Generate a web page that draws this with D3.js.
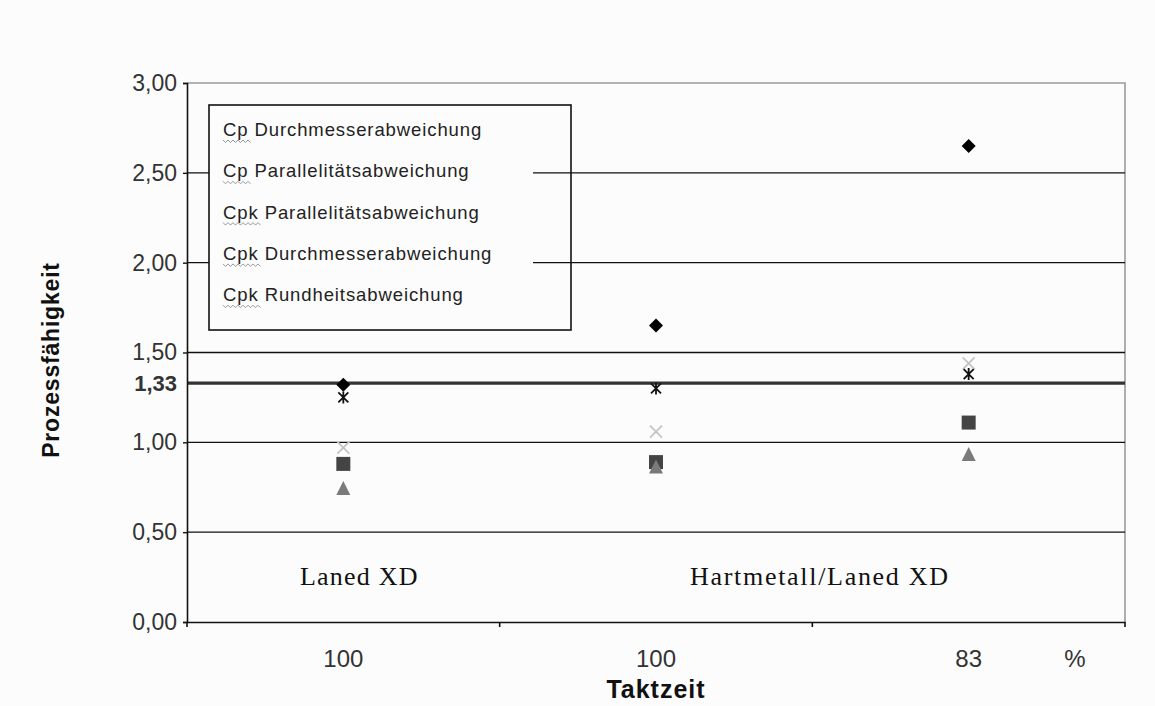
<!DOCTYPE html>
<html>
<head>
<meta charset="utf-8">
<script src="https://cdn.jsdelivr.net/npm/d3@7"></script>
<style>
  html, body { margin: 0; padding: 0; background: #fcfcfc; }
  svg { display: block; }
</style>
</head>
<body>
<svg id="chart" width="1155" height="706"></svg>
<script>
// ---- data ----
const categories = ["100", "100", "83"];
const seriesNames = [
  "Cp Durchmesserabweichung",
  "Cp Parallelitätsabweichung",
  "Cpk Parallelitätsabweichung",
  "Cpk Durchmesserabweichung",
  "Cpk Rundheitsabweichung"
];
const cpDurchmesser   = [1.32, 1.65, 2.65];
const cpParallel      = [0.88, 0.89, 1.11];
const cpkParallel     = [0.74, 0.86, 0.93];
const cpkDurchmesser  = [0.97, 1.06, 1.44];
const cpkRundheit     = [1.25, 1.30, 1.38];
const yTicks = [0, 0.5, 1.0, 1.5, 2.0, 2.5, 3.0];
const limitValue = 1.33;
const groupLabels = ["Laned XD", "Hartmetall/Laned XD"];
const unitLabel = "%";
const xTitle = "Taktzeit";
const yTitle = "Prozessfähigkeit";

const seriesValues = [cpDurchmesser, cpParallel, cpkParallel, cpkDurchmesser, cpkRundheit];
const markerTypes = ["diamond", "square", "triangle", "cross", "asterisk"];

// ---- layout ----
const svg = d3.select("#chart");
const X0 = 187, X1 = 1125, Y0 = 622, Y1 = 83;
const x = d3.scaleBand().domain(d3.range(categories.length)).range([X0, X1]).padding(0);
const y = d3.scaleLinear().domain([0, 3]).range([Y0, Y1]);

const loc = d3.formatLocale({decimal: ",", thousands: ".", grouping: [3], currency: ["", "€"]});
const fmt = loc.format(".2f");
const FONT = "'Liberation Sans', Arial, sans-serif";

// plot frame (top & right gray)
svg.append("path")
  .attr("d", `M${X0},${Y1}H${X1}V${Y0}`)
  .attr("fill", "none").attr("stroke", "#9a9a9a").attr("stroke-width", 1.6);

// gridlines
svg.append("g").selectAll("line")
  .data(yTicks.filter(v => v > 0 && v < 3))
  .join("line")
  .attr("x1", X0).attr("x2", X1)
  .attr("y1", d => y(d)).attr("y2", d => y(d))
  .attr("stroke", "#111").attr("stroke-width", 1.4);

// 1.33 limit line
svg.append("line")
  .attr("x1", X0).attr("x2", X1)
  .attr("y1", y(limitValue)).attr("y2", y(limitValue))
  .attr("stroke", "#333").attr("stroke-width", 3.2);

// y axis
const yAxis = d3.axisLeft(y).tickValues(yTicks).tickFormat(fmt).tickSize(4).tickPadding(6);
const gy = svg.append("g").attr("transform", `translate(${X0},0)`).call(yAxis);
gy.select(".domain").attr("stroke", "#111").attr("stroke-width", 1.6);
gy.selectAll(".tick line").attr("stroke", "#111").attr("stroke-width", 1.4);
gy.selectAll(".tick text").attr("font-family", FONT).attr("font-size", 23).attr("fill", "#333");

// 1,33 label
svg.append("text")
  .attr("x", X0 - 10).attr("y", y(limitValue)).attr("dy", "0.36em")
  .attr("text-anchor", "end")
  .attr("font-family", FONT).attr("font-size", 22).attr("font-weight", "bold").attr("fill", "#333")
  .text(fmt(limitValue));

// x axis
const xAxis = d3.axisBottom(x).tickSize(0).tickFormat(i => categories[i]);
const gx = svg.append("g").attr("transform", `translate(0,${Y0})`).call(xAxis);
gx.select(".domain").attr("stroke", "#111").attr("stroke-width", 1.6);
gx.selectAll(".tick text").attr("font-family", FONT).attr("font-size", 24).attr("fill", "#333").attr("dy", "1.75em");
// boundary ticks
svg.append("g").selectAll("line")
  .data(d3.range(categories.length + 1))
  .join("line")
  .attr("x1", i => X0 + i * x.bandwidth()).attr("x2", i => X0 + i * x.bandwidth())
  .attr("y1", Y0).attr("y2", Y0 + 5)
  .attr("stroke", "#111").attr("stroke-width", 1.6);

svg.append("text")
  .attr("x", 1075).attr("y", Y0 + 45)
  .attr("text-anchor", "middle")
  .attr("font-family", FONT).attr("font-size", 24).attr("fill", "#333")
  .text(unitLabel);

// axis titles
svg.append("text")
  .attr("x", x(1) + x.bandwidth() / 2).attr("y", 698)
  .attr("text-anchor", "middle")
  .attr("font-family", FONT).attr("font-size", 25).attr("font-weight", "bold").attr("fill", "#111")
  .attr("letter-spacing", 1)
  .text(xTitle);
svg.append("text")
  .attr("transform", `translate(59,360) rotate(-90)`)
  .attr("text-anchor", "middle")
  .attr("font-family", FONT).attr("font-size", 23).attr("font-weight", "bold").attr("fill", "#111")
  .attr("letter-spacing", 0.8)
  .text(yTitle);

// group annotation labels
const SERIF = "'Liberation Serif', 'Times New Roman', serif";
svg.append("text").attr("x", 300).attr("y", 585)
  .attr("font-family", SERIF).attr("font-size", 26).attr("letter-spacing", 1.2).attr("fill", "#111").text(groupLabels[0]);
svg.append("text").attr("x", 690).attr("y", 585)
  .attr("font-family", SERIF).attr("font-size", 26).attr("letter-spacing", 1.7).attr("fill", "#111").text(groupLabels[1]);

// legend: opaque text area, transparent frame
const lg = svg.append("g");
lg.append("rect").attr("x", 209).attr("y", 105).attr("width", 324).attr("height", 225)
  .attr("fill", "#fcfcfc");
lg.append("rect").attr("x", 209).attr("y", 105).attr("width", 362).attr("height", 225)
  .attr("fill", "none").attr("stroke", "#111").attr("stroke-width", 1.6);
seriesNames.forEach((name, i) => {
  const parts = name.split(" ");
  const ty = 136 + i * 41.3;
  const t = lg.append("text").attr("x", 223).attr("y", ty)
    .attr("font-family", FONT).attr("font-size", 18.5).attr("letter-spacing", 0.9).attr("fill", "#222");
  t.append("tspan").text(parts[0]);
  t.append("tspan").text(" " + parts.slice(1).join(" "));
  const w = t.node().getSubStringLength(0, parts[0].length);
  // wavy spellcheck underline
  let d = `M223,${ty + 4}`;
  for (let k = 0, xx = 223; xx < 223 + w; k++) {
    xx += 2.5;
    d += `L${xx},${ty + 4 + (k % 2 === 0 ? 2.5 : 0)}`;
  }
  lg.append("path").attr("d", d).attr("fill", "none").attr("stroke", "#999").attr("stroke-width", 1);
});

// markers
function drawMarker(g, type, cx, cy) {
  if (type === "diamond") {
    g.append("path").attr("d", `M${cx},${cy - 7}L${cx + 7},${cy}L${cx},${cy + 7}L${cx - 7},${cy}Z`).attr("fill", "#000");
  } else if (type === "square") {
    g.append("rect").attr("x", cx - 7).attr("y", cy - 7).attr("width", 14).attr("height", 14).attr("fill", "#444");
  } else if (type === "triangle") {
    g.append("path").attr("d", `M${cx},${cy - 8}L${cx + 7},${cy + 6}L${cx - 7},${cy + 6}Z`).attr("fill", "#7a7a7a");
  } else if (type === "cross") {
    g.append("path").attr("d", `M${cx - 6},${cy - 6}L${cx + 6},${cy + 6}M${cx + 6},${cy - 6}L${cx - 6},${cy + 6}`)
      .attr("stroke", "#c4c4c4").attr("stroke-width", 1.8);
  } else if (type === "asterisk") {
    g.append("path").attr("d", `M${cx - 5},${cy - 5}L${cx + 5},${cy + 5}M${cx + 5},${cy - 5}L${cx - 5},${cy + 5}M${cx},${cy - 6}L${cx},${cy + 6}`)
      .attr("stroke", "#111").attr("stroke-width", 1.8);
  }
}
const mg = svg.append("g");
seriesValues.forEach((vals, s) => {
  vals.forEach((v, i) => {
    drawMarker(mg, markerTypes[s], x(i) + x.bandwidth() / 2, y(v));
  });
});
</script>
</body>
</html>
